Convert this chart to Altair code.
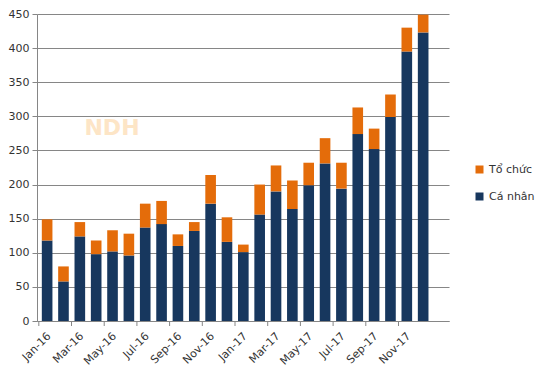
import altair as alt
import pandas as pd

months = ["Jan-16", "Feb-16", "Mar-16", "Apr-16", "May-16", "Jun-16",
          "Jul-16", "Aug-16", "Sep-16", "Oct-16", "Nov-16", "Dec-16",
          "Jan-17", "Feb-17", "Mar-17", "Apr-17", "May-17", "Jun-17",
          "Jul-17", "Aug-17", "Sep-17", "Oct-17", "Nov-17", "Dec-17"]
ca_nhan = [118, 58, 124, 98, 102, 96, 137, 142, 110, 132, 172, 116,
           101, 156, 190, 164, 199, 231, 194, 274, 252, 299, 395, 423]
to_chuc = [31, 22, 21, 20, 31, 32, 35, 34, 17, 13, 42, 36,
           11, 44, 38, 42, 33, 37, 38, 39, 30, 33, 35, 26]
series = ["Tổ chức", "Cá nhân"]
colors = ["#E46C0A", "#17375E"]
y_ticks = [0, 50, 100, 150, 200, 250, 300, 350, 400, 450]

rows = []
for m, a, b in zip(months, ca_nhan, to_chuc):
    rows.append({"month": m, "series": "Cá nhân", "value": a, "ord": 0})
    rows.append({"month": m, "series": "Tổ chức", "value": b, "ord": 1})
df = pd.DataFrame(rows)
shown = months[::2]
tick_df = pd.DataFrame({"month": shown})

W, H = 412, 307
FONT = "DejaVu Sans"
GRAY = "#868686"

xscale = alt.Scale(domain=months, paddingInner=0.35, paddingOuter=0.775, align=0.19)
label_list = "[" + ",".join("'" + s + "'" for s in shown) + "]"

bars = alt.Chart(df).mark_bar().encode(
    x=alt.X("month:N", scale=xscale, sort=months, title=None,
            axis=alt.Axis(labelAngle=-45, labelAlign="right", labelBaseline="top",
                          labelExpr="indexof(" + label_list + ", datum.value) >= 0 ? datum.value : ''",
                          ticks=False, domainColor=GRAY, labelFont=FONT, labelFontSize=11,
                          labelColor="#333333", labelPadding=9, labelOffset=-2)),
    y=alt.Y("value:Q", stack="zero", title=None,
            scale=alt.Scale(domain=[0, 450], nice=False),
            axis=alt.Axis(values=y_ticks, grid=True, gridColor=GRAY, domainColor=GRAY,
                          tickColor=GRAY, tickSize=5, labelFont=FONT, labelFontSize=11,
                          labelColor="#333333", labelPadding=3)),
    color=alt.Color("series:N", scale=alt.Scale(domain=series, range=colors),
                    legend=alt.Legend(title=None, orient="none", legendX=437, legendY=150,
                                      symbolType="square", symbolSize=64, labelFont=FONT,
                                      labelFontSize=11, labelColor="#333333", rowPadding=15,
                                      symbolStrokeWidth=0)),
    order=alt.Order("ord:Q"),
)

ticks = alt.Chart(tick_df).mark_rule(color=GRAY).encode(
    x=alt.X("month:N", scale=xscale, sort=months, bandPosition=0),
    xOffset=alt.value(-3),
    y=alt.value(H),
    y2=alt.value(H + 5),
)

wm = alt.Chart(pd.DataFrame({"t": ["NDH"]})).mark_text(
    font=FONT, fontSize=22, fontWeight="bold", color="#FDE5C6"
).encode(text="t:N", x=alt.value(75), y=alt.value(114))

chart = alt.layer(wm, bars, ticks).properties(
    width=W, height=H, padding={"left": 0, "top": 0, "right": 0, "bottom": 0}
).configure_view(stroke=None)

chart.save("out.html", embed_options={"renderer": "svg", "actions": False})
